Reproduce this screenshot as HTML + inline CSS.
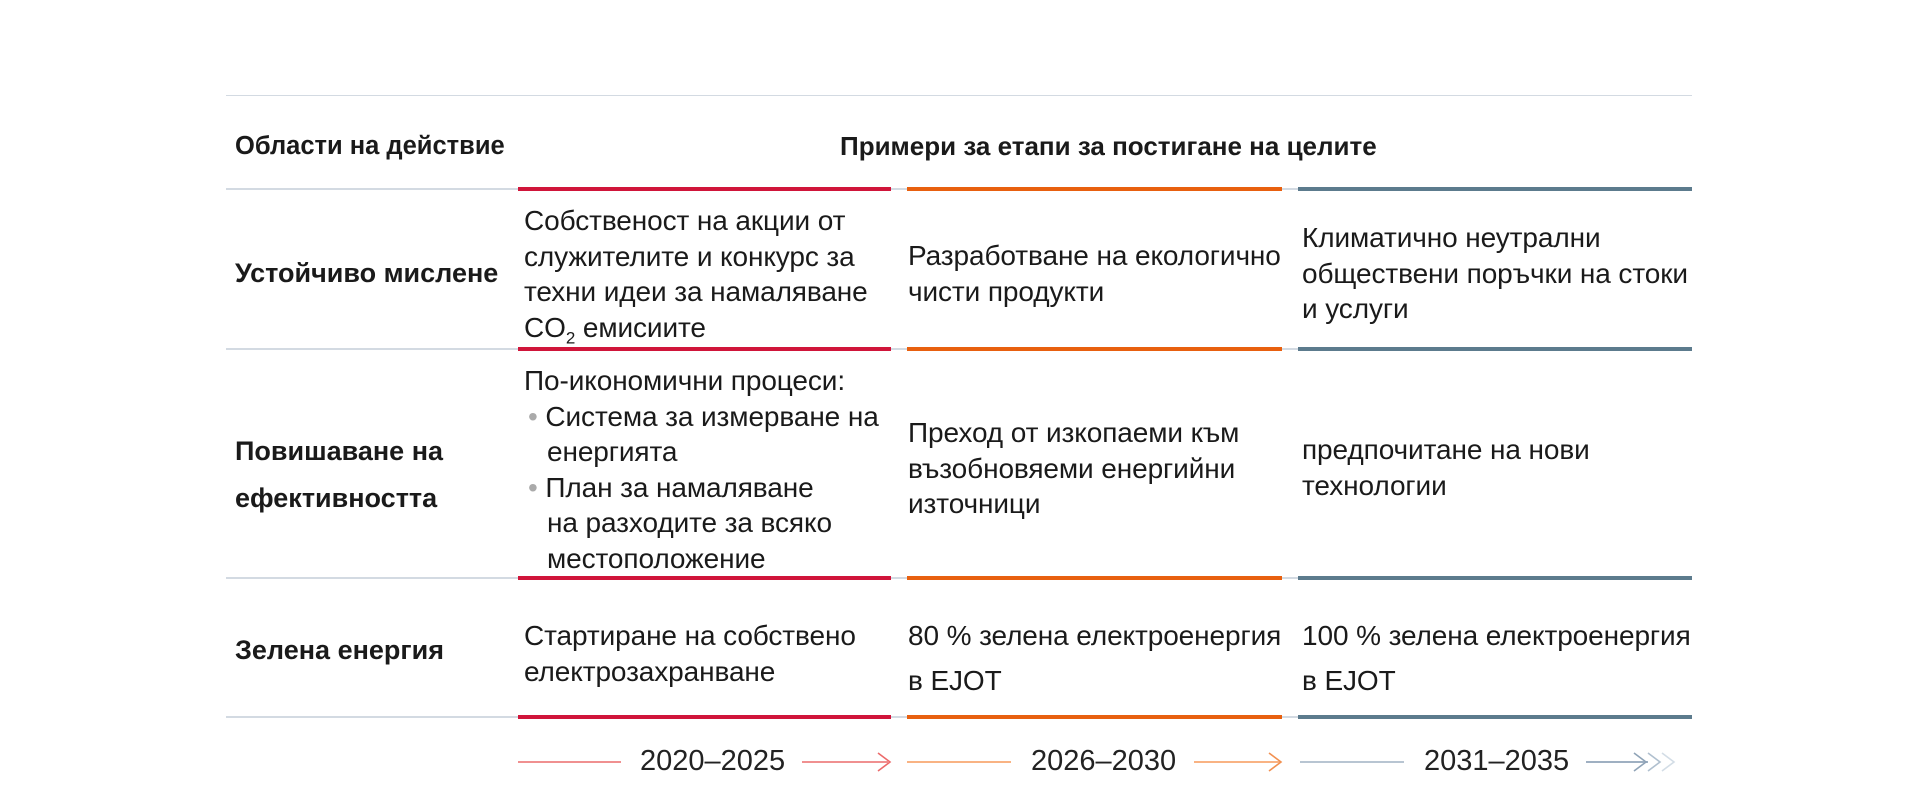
<!DOCTYPE html>
<html><head><meta charset="utf-8"><style>
body{margin:0;width:1920px;height:800px;background:#fff;position:relative;overflow:hidden;font-family:"Liberation Sans",sans-serif;color:#1a1a1a}
.a{position:absolute;white-space:nowrap}
.h{font-weight:bold;font-size:27px}
.t{font-size:28px;letter-spacing:-0.1px;line-height:35.5px}
.ln{position:absolute;height:2px;background:#d3dae2}
.bar{position:absolute;height:4px}
.r{background:#d0153a}.o{background:#e8600f}.s{background:#5c7b8d}
.y{position:absolute;font-size:29px;top:745px;color:#222}
.tl{position:absolute;height:2px;top:761px}
</style></head><body>
<div class="ln" style="left:226px;width:1466px;top:95px;height:1px"></div>
<div class="a h" style="left:235px;top:132px;font-size:25.5px">Области на действие</div>
<div class="a h" style="left:840px;top:131px;font-size:26px">Примери за етапи за постигане на целите</div>

<div class="ln" style="left:226px;width:1466px;top:188px"></div>
<div class="ln" style="left:226px;width:1466px;top:348px"></div>
<div class="ln" style="left:226px;width:1466px;top:577px"></div>
<div class="ln" style="left:226px;width:1466px;top:716px"></div>

<div class="bar r" style="left:518px;width:373px;top:187px"></div>
<div class="bar o" style="left:907px;width:375px;top:187px"></div>
<div class="bar s" style="left:1298px;width:394px;top:187px"></div>
<div class="bar r" style="left:518px;width:373px;top:347px"></div>
<div class="bar o" style="left:907px;width:375px;top:347px"></div>
<div class="bar s" style="left:1298px;width:394px;top:347px"></div>
<div class="bar r" style="left:518px;width:373px;top:576px"></div>
<div class="bar o" style="left:907px;width:375px;top:576px"></div>
<div class="bar s" style="left:1298px;width:394px;top:576px"></div>
<div class="bar r" style="left:518px;width:373px;top:715px"></div>
<div class="bar o" style="left:907px;width:375px;top:715px"></div>
<div class="bar s" style="left:1298px;width:394px;top:715px"></div>

<div class="a h" style="left:235px;top:258px">Устойчиво мислене</div>
<div class="a t" style="left:524px;top:203px">Собственост на акции от<br>служителите и конкурс за<br>техни идеи за намаляване<br>CO<sub style="font-size:17px;line-height:0">2</sub> емисиите</div>
<div class="a t" style="left:908px;top:238px">Разработване на екологично<br>чисти продукти</div>
<div class="a t" style="left:1302px;top:220px">Климатично неутрални<br>обществени поръчки на стоки<br>и услуги</div>

<div class="a h" style="left:235px;top:428px;line-height:47px">Повишаване на<br>ефективността</div>
<div class="a t" style="left:524px;top:363px">По-икономични процеси:<br><span style="color:#aaa;margin-left:4px">•</span>&nbsp;Система за измерване на<br><span style="margin-left:23px"></span>енергията<br><span style="color:#aaa;margin-left:4px">•</span>&nbsp;План за намаляване<br><span style="margin-left:23px"></span>на разходите за всяко<br><span style="margin-left:23px"></span>местоположение</div>
<div class="a t" style="left:908px;top:415px">Преход от изкопаеми към<br>възобновяеми енергийни<br>източници</div>
<div class="a t" style="left:1302px;top:432px">предпочитане на нови<br>технологии</div>

<div class="a h" style="left:235px;top:635px">Зелена енергия</div>
<div class="a t" style="left:524px;top:618px">Стартиране на собствено<br>електрозахранване</div>
<div class="a t" style="left:908px;top:613px;line-height:45px">80 % зелена електроенергия<br>в EJOT</div>
<div class="a t" style="left:1302px;top:613px;line-height:45px">100 % зелена електроенергия<br>в EJOT</div>

<div class="tl" style="left:518px;width:103px;background:#f09090"></div>
<div class="y" style="left:640px">2020–2025</div>
<div class="tl" style="left:802px;width:86px;background:#f09090"></div>
<svg class="a" style="left:876px;top:752px" width="16" height="20"><polyline points="2,1 14,10 2,19" fill="none" stroke="#ec6a6a" stroke-width="1.6"/></svg>

<div class="tl" style="left:907px;width:104px;background:#f9b383"></div>
<div class="y" style="left:1031px">2026–2030</div>
<div class="tl" style="left:1194px;width:86px;background:#f9b383"></div>
<svg class="a" style="left:1267px;top:752px" width="16" height="20"><polyline points="2,1 14,10 2,19" fill="none" stroke="#f29050" stroke-width="1.6"/></svg>

<div class="tl" style="left:1300px;width:104px;background:#b8c5d2"></div>
<div class="y" style="left:1424px">2031–2035</div>
<div class="tl" style="left:1586px;width:62px;background:#9fb0c2"></div>
<svg class="a" style="left:1632px;top:752px" width="62" height="20"><polyline points="2,1 14,10 2,19" fill="none" stroke="#8fa3b7" stroke-width="1.6"/><polyline points="16,1 28,10 16,19" fill="none" stroke="#b0c0cf" stroke-width="1.6"/><polyline points="30,1 42,10 30,19" fill="none" stroke="#d3dde6" stroke-width="1.6"/></svg>
</body></html>
